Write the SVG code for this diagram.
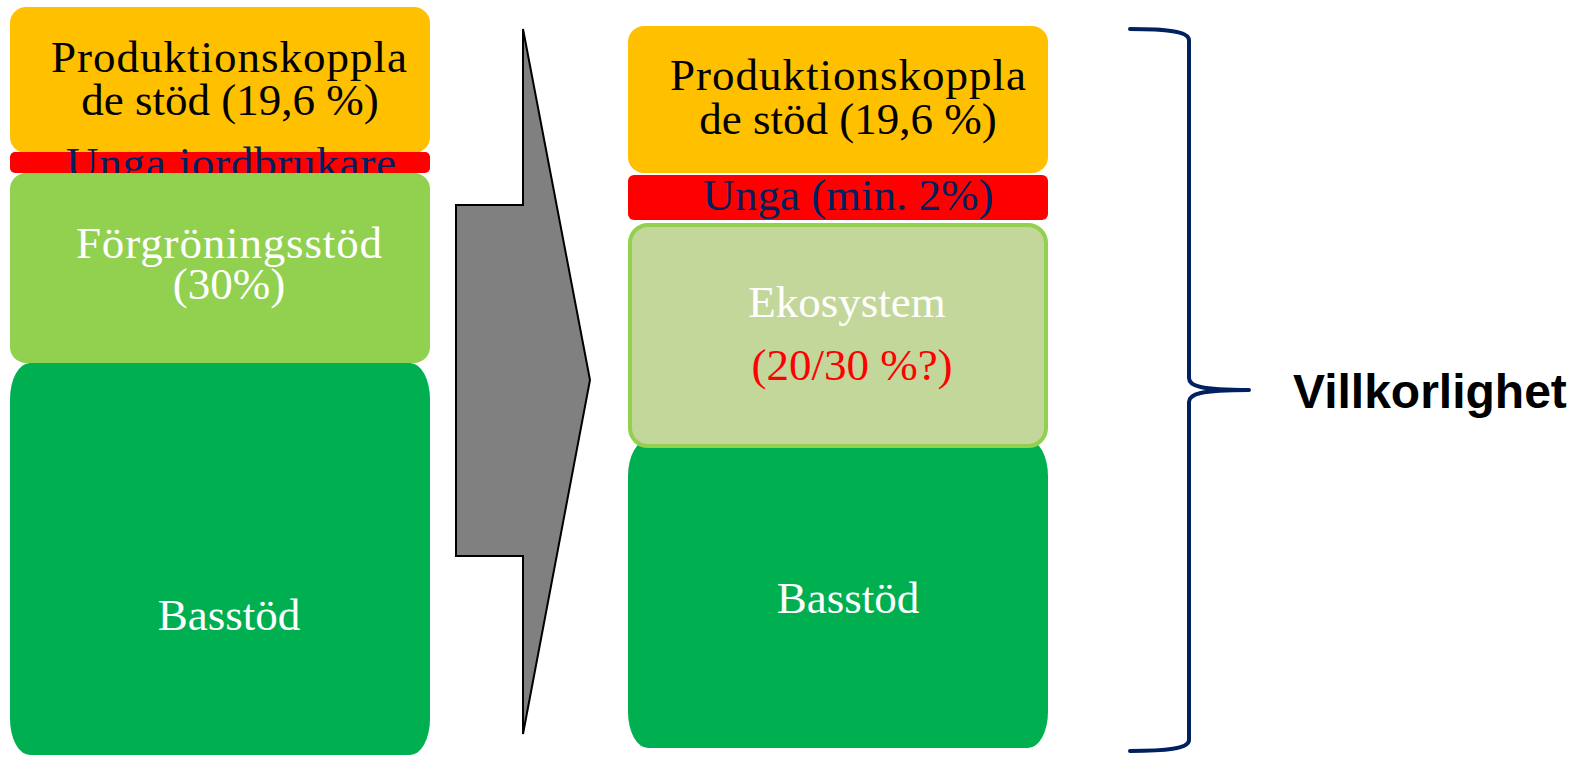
<svg xmlns="http://www.w3.org/2000/svg" width="1577" height="757" viewBox="0 0 1577 757">
<style>
.t{font-family:"Liberation Serif","Times New Roman",serif;font-size:45px;text-anchor:middle}
.dk{fill:#000}
.wh{fill:#fff}
.nv{fill:#002060}
.rd{fill:#ff0000}
.yel{fill:#FFC000}
.red{fill:#FF0000}
.lg{fill:#92D050}
.dg{fill:#00B050}
.eco{fill:#C4D79B;stroke:#92D050;stroke-width:4}
.lab{font-family:"Liberation Sans",Arial,sans-serif;font-weight:bold;font-size:48px;fill:#000}
</style>
<rect width="1577" height="757" fill="#fff"/>

<g id="left-produktion">
<rect class="yel" x="10" y="7" width="420" height="146" rx="16"/>
<text class="t dk" x="229" y="72" textLength="356" lengthAdjust="spacing">Produktionskoppla</text>
<text class="t dk" x="230" y="115">de stöd (19,6 %)</text>
</g>
<g id="left-unga">
<rect class="red" x="10" y="152" width="420" height="21" rx="5"/>
<text class="t nv" x="231" y="178" textLength="330" lengthAdjust="spacing">Unga jordbrukare</text>
</g>
<g id="left-forgroning">
<rect class="lg" x="10" y="173" width="420" height="190" rx="16"/>
<text class="t wh" x="229" y="258" textLength="306" lengthAdjust="spacing">Förgröningsstöd</text>
<text class="t wh" x="229" y="299">(30%)</text>
</g>
<g id="left-basstod">
<rect class="dg" x="10" y="363" width="420" height="392" rx="20" ry="36"/>
<text class="t wh" x="229" y="630">Basstöd</text>
</g>

<g id="right-produktion">
<rect class="yel" x="628" y="26" width="420" height="147" rx="16"/>
<text class="t dk" x="848" y="90" textLength="356" lengthAdjust="spacing">Produktionskoppla</text>
<text class="t dk" x="848" y="134">de stöd (19,6 %)</text>
</g>
<g id="right-unga">
<rect class="red" x="628" y="175" width="420" height="45" rx="6"/>
<text class="t nv" x="848" y="210">Unga (min. 2%)</text>
</g>
<g id="right-basstod">
<rect class="dg" x="628" y="440" width="420" height="308" rx="20" ry="36"/>
<text class="t wh" x="848" y="613">Basstöd</text>
</g>
<g id="right-ekosystem">
<rect class="eco" x="630" y="225" width="416" height="221" rx="18"/>
<text class="t wh" x="847" y="317">Ekosystem</text>
<text class="t rd" x="852" y="380">(20/30 %?)</text>
</g>

<g id="connectors">
<polygon points="523,29 590,380 523,734 523,556 456,556 456,205 523,205" fill="#808080" stroke="#000" stroke-width="2" stroke-linejoin="miter"/>
<path d="M1130,29 C1165,29 1189,31 1189,40 L1189,378 C1189,386 1200,390 1249,390 C1200,390 1189,394 1189,402 L1189,740 C1189,749 1165,751 1130,751" fill="none" stroke="#002060" stroke-width="4" stroke-linecap="round" stroke-linejoin="round"/>
</g>

<g id="villkorlighet">
<text class="lab" x="1293" y="408">Villkorlighet</text>
</g>
</svg>
